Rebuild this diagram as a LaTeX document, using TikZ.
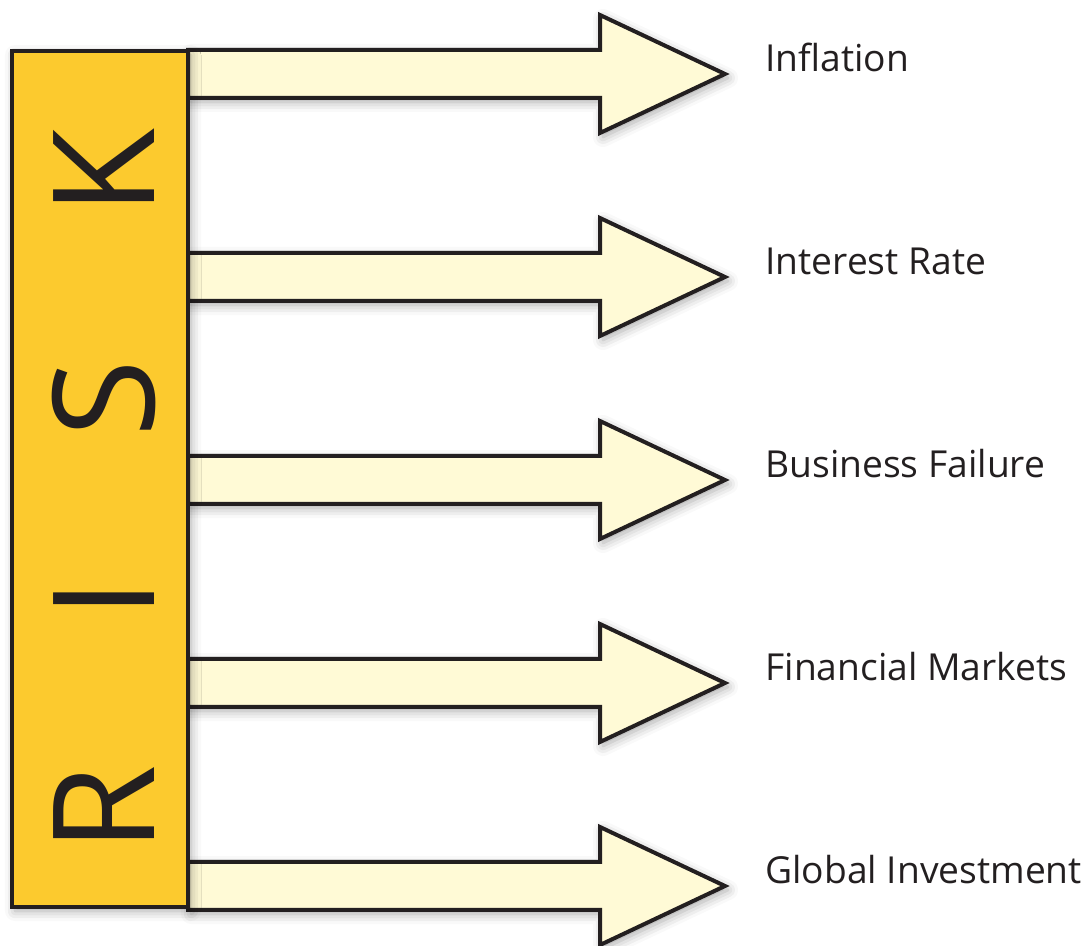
\documentclass[tikz,border=0pt]{standalone}
\usepackage{fontspec}
\setmainfont{Open Sans}
\usepackage{tikz}
\usetikzlibrary{shadows.blur}
\definecolor{riskgold}{HTML}{FCCA2E}
\definecolor{riskcream}{HTML}{FFFAD6}
\definecolor{riskink}{HTML}{231F20}

\begin{document}
\begin{tikzpicture}[x=.5pt,y=-.5pt,
    riskbar/.style={rectangle,draw=riskink,fill=riskgold,line width=2pt,minimum width=88pt,minimum height=428pt,inner sep=0pt,
      blur shadow={shadow xshift=1.5pt,shadow yshift=-2pt,shadow blur radius=5pt,shadow opacity=35}},
    riskarrow/.style={draw=riskink,fill=riskcream,line width=2pt,line join=miter,
      blur shadow={shadow xshift=1.5pt,shadow yshift=-2pt,shadow blur radius=5pt,shadow opacity=35}},
    riskletter/.style={text=riskink,font=\fontsize{70.7pt}{80pt}\selectfont,rotate=90,anchor=base,inner sep=0pt},
    risklabel/.style={text=riskink,font=\fontsize{18.6pt}{22pt}\selectfont,anchor=base west,inner sep=0pt}]
    \useasboundingbox (0,0) rectangle (1089,946);

    % arrow roots on the right side of the bar
    \coordinate (a1) at (188,74);
    \coordinate (a2) at (188,277);
    \coordinate (a3) at (188,480);
    \coordinate (a4) at (188,683);
    \coordinate (a5) at (188,886);

    \draw[riskarrow] (a1) ++(0,-24) -- ++(412,0) -- ++(0,-35) -- ++(125,59) -- ++(-125,59) -- ++(0,-35) -- ++(-412,0) -- cycle;
    \draw[riskarrow] (a2) ++(0,-24) -- ++(412,0) -- ++(0,-35) -- ++(125,59) -- ++(-125,59) -- ++(0,-35) -- ++(-412,0) -- cycle;
    \draw[riskarrow] (a3) ++(0,-24) -- ++(412,0) -- ++(0,-35) -- ++(125,59) -- ++(-125,59) -- ++(0,-35) -- ++(-412,0) -- cycle;
    \draw[riskarrow] (a4) ++(0,-24) -- ++(412,0) -- ++(0,-35) -- ++(125,59) -- ++(-125,59) -- ++(0,-35) -- ++(-412,0) -- cycle;
    \draw[riskarrow] (a5) ++(0,-24) -- ++(412,0) -- ++(0,-35) -- ++(125,59) -- ++(-125,59) -- ++(0,-35) -- ++(-412,0) -- cycle;

    % the bar
    \node[riskbar] (bar) at (100,479) {};
    \node[riskletter] (r) at (155,809) {R};
    \node[riskletter] (i) at (155,599) {I};
    \node[riskletter] (s) at (155,399) {S};
    \node[riskletter] (k) at (155,172) {K};

    % labels
    \node[risklabel] (l1) at (765,72) {Inflation};
    \node[risklabel] (l2) at (765,275) {Interest Rate};
    \node[risklabel] (l3) at (765,478) {Business Failure};
    \node[risklabel] (l4) at (765,681) {Financial Markets};
    \node[risklabel] (l5) at (765,884) {Global Investment};
\end{tikzpicture}
\end{document}
